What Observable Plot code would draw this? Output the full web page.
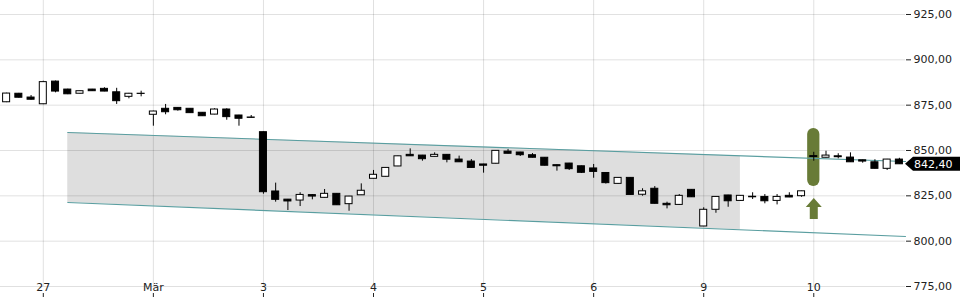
<!DOCTYPE html>
<html><head><meta charset="utf-8">
<script src="https://cdn.jsdelivr.net/npm/d3@7"></script>
<script src="https://cdn.jsdelivr.net/npm/@observablehq/plot@0.6"></script>
<style>body{margin:0;background:#fff;}</style>
</head><body><div id="chart"></div>
<script>
// Hourly candles (index 0 = first candle shown)
const openP  = [876.6,881.3,879.2,875.5,888.0,883.6,881.3,883.6,884.0,882.1,879.6,881.3,
                869.7,873.0,873.5,873.0,870.8,869.8,872.6,869.3,868.2,
                860.1,827.4,822.9,822.4,825.4,823.9,826.1,820.4,825.3,
                834.4,835.5,841.2,847.6,847.2,846.5,847.6,845.0,843.9,
                842.3,842.7,849.4,848.9,847.4,846.0,841.9,842.8,841.3,
                840.1,837.6,831.6,834.9,825.6,828.9,820.6,820.0,828.3,
                808.1,817.3,825.2,822.2,824.5,824.4,822.2,825.0,824.8,
                846.9,846.0,846.8,846.1,844.6,843.5,839.9,845.0];
const highP  = [881.6,881.5,880.3,888.2,888.3,883.8,882.8,883.7,884.6,884.3,881.5,882.7,
                871.7,875.4,873.6,873.1,870.9,873.0,873.0,869.4,869.3,
                860.2,832.0,823.0,826.7,825.7,828.5,826.2,824.7,831.6,
                839.0,840.5,846.9,850.9,847.3,848.7,847.7,846.9,845.0,
                842.4,849.9,850.5,849.0,848.3,846.1,842.0,842.9,841.4,
                842.3,837.7,835.0,835.0,828.9,830.1,821.5,825.7,828.4,
                818.4,824.5,825.3,825.1,826.7,825.7,825.7,826.7,827.6,
                849.0,849.6,848.2,848.7,844.7,844.9,845.1,845.7];
const lowP   = [876.4,878.9,877.8,875.3,881.8,880.8,881.2,882.6,882.4,875.4,878.5,879.6,
                863.4,869.7,871.7,870.5,868.8,869.7,866.7,863.4,867.9,
                825.9,821.5,816.9,819.1,822.8,823.8,819.7,816.5,825.2,
                834.3,835.4,841.1,846.7,844.1,846.4,843.2,843.4,840.3,
                837.5,842.6,848.1,846.7,845.9,841.5,838.6,839.0,837.3,
                834.7,831.5,831.5,825.4,824.8,820.5,817.8,819.9,824.1,
                808.0,815.4,818.7,822.1,823.0,820.6,820.0,824.0,824.2,
                844.1,845.9,845.4,843.4,843.0,839.8,839.0,842.3];
const closeP = [881.4,879.1,878.0,887.7,882.5,881.0,882.7,882.7,882.5,877.2,881.3,881.2,
                871.5,871.1,872.2,870.6,868.9,872.6,868.4,867.5,868.0,
                827.0,822.8,821.9,825.5,824.6,826.1,819.8,824.6,827.8,
                836.6,840.4,846.8,846.8,845.2,847.6,844.9,843.5,840.4,
                841.6,849.8,848.2,847.4,846.0,841.6,841.3,839.7,837.7,
                838.2,832.0,834.9,825.5,827.5,820.6,819.8,825.0,824.2,
                817.3,824.4,822.0,825.0,824.2,822.0,824.4,824.1,827.5,
                846.4,847.2,846.3,843.5,843.9,839.9,845.0,842.4];

// Axis ticks
const dayTickIndex  = [3, 12, 21, 30, 39, 48, 57, 66];
const dayTickLabels = ["27", "Mär", "3", "4", "5", "6", "9", "10"];
const priceTicks    = [775, 800, 825, 850, 875, 900, 925];

// Trend channel (candle index -> price)
const channelIndex = [5, 73.5];
const channelUpper = [859.9, 843.9];
const channelLower = [821.3, 802.6];
const zoneIndex = [5, 60];
const zoneUpper = [859.9, 847.0];
const zoneLower = [821.3, 806.3];

// Signal marker
const signalIndex = [66];
const signalHigh  = [862.1];
const signalLow   = [830.1];
const arrowLevel  = [818.0];

const lastPrice = 842.40;

const candles = openP.map((o, i) => ({i, open: o, high: highP[i], low: lowP[i], close: closeP[i]}));
const channel = channelIndex.map((x, k) => ({x, up: channelUpper[k], lo: channelLower[k]}));
const zone = zoneIndex.map((x, k) => ({x, up: zoneUpper[k], lo: zoneLower[k]}));
const signal = signalIndex.map((x, k) => ({x, hi: signalHigh[k], lo: signalLow[k], arrow: arrowLevel[k]}));

const green = "#687b37";
const teal = "#5a9ea0";
const fmt = d => d.toFixed(2).replace(".", ",");

const upArrow = {
  draw(ctx) {
    ctx.moveTo(0, -10.5);
    ctx.lineTo(8, -1.5);
    ctx.lineTo(4, -1.5);
    ctx.lineTo(4, 10.5);
    ctx.lineTo(-4, 10.5);
    ctx.lineTo(-4, -1.5);
    ctx.lineTo(-8, -1.5);
    ctx.closePath();
  }
};

function priceTag(index, scales, values, dims) {
  const y = scales.y(lastPrice);
  const x0 = dims.width - dims.marginRight;
  const g = d3.create("svg:g");
  g.append("path")
    .attr("d", `M${x0},${y} L${x0 + 8},${y - 7} H${dims.width} V${y + 7} H${x0 + 8} Z`)
    .attr("fill", "#000");
  g.append("text")
    .attr("x", x0 + 9).attr("y", y).attr("dy", "0.36em")
    .attr("text-anchor", "start")
    .attr("fill", "#fff").attr("font-size", 11)
    .attr("font-family", "DejaVu Sans")
    .text(fmt(lastPrice));
  return g.node();
}

const chart = Plot.plot({
  width: 960,
  height: 300,
  marginLeft: 0,
  marginRight: 55,
  marginTop: 0,
  marginBottom: 14,
  style: {fontFamily: "DejaVu Sans", fontSize: "11px", background: "#fff", color: "#222"},
  x: {type: "linear", domain: [-0.5, 73.5]},
  y: {type: "linear", domain: [775, 932.72]},
  marks: [
    Plot.areaY(zone, {x: "x", y1: "lo", y2: "up", fill: "#dedede"}),
    Plot.gridX({ticks: dayTickIndex, stroke: "#000", strokeOpacity: 0.12}),
    Plot.gridY({ticks: priceTicks, stroke: "#000", strokeOpacity: 0.12}),
    Plot.rect(signal, {x1: d => d.x - 0.5, x2: d => d.x + 0.5, y1: "lo", y2: "hi", rx: 6, fill: green}),
    Plot.dot(signal, {x: "x", y: "arrow", symbol: upArrow, fill: green, stroke: "none", r: 8}),
    Plot.line(channel, {x: "x", y: "up", stroke: teal, strokeWidth: 1.1}),
    Plot.line(channel, {x: "x", y: "lo", stroke: teal, strokeWidth: 1.1}),
    Plot.ruleX(candles, {x: "i", y1: "low", y2: "high", stroke: "#000", strokeWidth: 1}),
    Plot.rect(candles, {
      x1: d => d.i - 0.5, x2: d => d.i + 0.5, y1: "open", y2: "close",
      insetLeft: 2.6, insetRight: 2.6,
      fill: d => d.close >= d.open ? "#fff" : "#000", stroke: "#000", strokeWidth: 1
    }),
    Plot.axisY({ticks: priceTicks, anchor: "right", tickSize: 5, tickPadding: 3, tickFormat: fmt, fontSize: 11, stroke: "#222"}),
    Plot.axisX({ticks: dayTickIndex, anchor: "bottom", tickSize: 4, tickFormat: () => "", dy: 7, stroke: "#222"}),
    Plot.axisX({ticks: dayTickIndex, anchor: "bottom", tickSize: 0, tickPadding: 0, dy: -3, fontSize: 11,
                tickFormat: d => dayTickLabels[dayTickIndex.indexOf(d)]}),
    priceTag
  ]
});
document.getElementById("chart").appendChild(chart);
</script>
</body></html>
